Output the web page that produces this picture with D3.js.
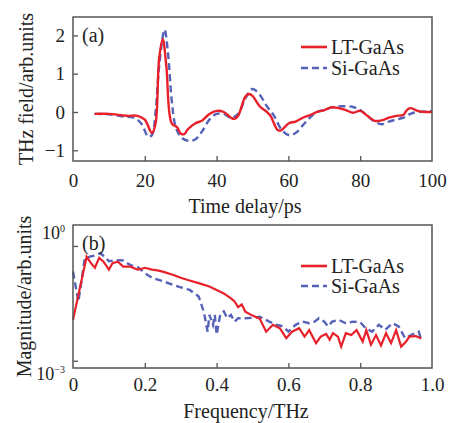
<!DOCTYPE html>
<html><head><meta charset="utf-8">
<script src="https://cdn.jsdelivr.net/npm/d3@7"></script>
<style>body{margin:0;background:#fff}svg{display:block}text{font-family:"Liberation Serif","Times New Roman",serif;fill:#222}</style>
</head><body><svg id="c" width="452" height="423"></svg>
<script>
// ---- Panel (a): THz time-domain field ----
const timeTicks = [0, 20, 40, 60, 80, 100];
const fieldTicks = [-1, 0, 1, 2];
const ltTime = [6,10,15,18,20,22,23,24,25,26,27.5,29,30,31,32,34,36,38,40,42,44,45,46,48,49,50,52,54,55,57,58,60,62,64,66,68,70,72,74,76,78,80,82,84,86,88,90,92,93,94,96,98,100];
const ltField = [-0.05,-0.05,-0.1,-0.1,-0.2,-0.55,-0.3,1.4,1.9,1.2,-0.3,-0.4,-0.56,-0.58,-0.45,-0.3,-0.22,-0.05,0.03,0,-0.15,-0.18,-0.1,0.4,0.47,0.42,0.15,0,-0.1,-0.47,-0.48,-0.3,-0.25,-0.15,-0.08,0,0.05,0.12,0.1,0.05,-0.02,0.03,-0.1,-0.23,-0.22,-0.15,-0.1,-0.08,0.05,0.1,0.03,0,0];
const siTime = [6,10,14,17,19,21,22,23,24,25.5,26.5,27.5,28.5,30,32,34,36,38,40,42,44,46,48,50,52,54,56,58,60,62,64,66,68,70,72,75,78,80,82,84,86,88,90,92,94,96,100];
const siField = [-0.05,-0.06,-0.12,-0.15,-0.3,-0.65,-0.6,0,1.2,2.15,1.5,0.3,-0.35,-0.65,-0.75,-0.72,-0.5,-0.2,-0.05,-0.05,-0.15,-0.05,0.35,0.6,0.45,0.15,-0.1,-0.45,-0.6,-0.55,-0.35,-0.15,0,0.05,0.12,0.15,0.13,0.05,-0.1,-0.25,-0.32,-0.25,-0.2,-0.15,-0.05,0,0.02];

// ---- Panel (b): spectral magnitude ----
const freqTicks = [0, 0.2, 0.4, 0.6, 0.8, 1.0];
const freqTickLabels = ["0", "0.2", "0.4", "0.6", "0.8", "1.0"];
const magTicks = [1, 0.001];
const ltFreq = [0,0.038,0.05,0.061,0.073,0.085,0.1,0.11,0.125,0.14,0.16,0.18,0.19,0.2,0.22,0.235,0.25,0.28,0.3,0.32,0.35,0.38,0.4,0.42,0.44,0.45,0.46,0.47,0.48,0.5,0.52,0.538,0.557,0.576,0.594,0.61,0.63,0.645,0.658,0.677,0.69,0.705,0.715,0.724,0.738,0.747,0.76,0.775,0.79,0.807,0.817,0.83,0.844,0.858,0.872,0.886,0.9,0.914,0.928,0.937,0.955,0.97];
const ltMag = [0.0117,0.525,0.355,0.269,0.49,0.389,0.24,0.355,0.389,0.288,0.288,0.24,0.251,0.269,0.24,0.229,0.214,0.174,0.148,0.129,0.107,0.087,0.0708,0.0575,0.0427,0.0355,0.0251,0.0295,0.0191,0.0151,0.0126,0.00575,0.0087,0.00708,0.00389,0.00575,0.00708,0.00427,0.00631,0.00288,0.00427,0.00501,0.00355,0.00525,0.00427,0.00234,0.00525,0.00468,0.00631,0.00316,0.00631,0.00263,0.00468,0.00251,0.00525,0.00288,0.00631,0.00234,0.00316,0.00427,0.0044,0.0038];
const siFreq = [0,0.015,0.033,0.047,0.06,0.076,0.09,0.1,0.12,0.14,0.16,0.18,0.2,0.22,0.25,0.28,0.3,0.325,0.35,0.355,0.365,0.375,0.38,0.39,0.395,0.4,0.41,0.42,0.43,0.44,0.45,0.46,0.48,0.5,0.52,0.547,0.566,0.585,0.6,0.62,0.64,0.658,0.67,0.685,0.7,0.71,0.722,0.74,0.76,0.78,0.8,0.815,0.833,0.852,0.87,0.89,0.907,0.925,0.944,0.963,0.97];
const siMag = [0.214,0.0355,0.479,0.525,0.562,0.646,0.501,0.398,0.427,0.417,0.316,0.282,0.195,0.148,0.12,0.0955,0.0832,0.0708,0.0479,0.0355,0.0178,0.00575,0.0158,0.0087,0.0158,0.00479,0.0158,0.0195,0.0129,0.0158,0.0105,0.0129,0.0129,0.0132,0.0141,0.0105,0.0087,0.00794,0.00575,0.0087,0.0105,0.00955,0.01,0.0129,0.0105,0.00794,0.0105,0.0117,0.00955,0.0105,0.0102,0.00708,0.00575,0.0087,0.00646,0.00955,0.00794,0.00389,0.00479,0.00575,0.00355];

const seriesNames = ["LT-GaAs", "Si-GaAs"];
const seriesColors = ["#e8202a", "#5662b8"];

const svg = d3.select("#c");
const L = 73, R = 432;
const FS = 20;

function frame(g, top, bottom) {
  g.append("rect").attr("x", L).attr("y", top).attr("width", R - L).attr("height", bottom - top)
    .attr("fill", "none").attr("stroke", "#555").attr("stroke-width", 1.5);
}
function legend(g, y0, dy) {
  seriesNames.forEach((n, i) => {
    const y = y0 + i * dy;
    g.append("line").attr("x1", 301).attr("x2", 327).attr("y1", y).attr("y2", y)
      .attr("stroke", seriesColors[i]).attr("stroke-width", 2.6)
      .attr("stroke-dasharray", i === 1 ? "7,4" : null);
    g.append("text").attr("x", 331).attr("y", y).attr("dy", "0.35em")
      .attr("font-size", FS).text(n);
  });
}
function styleAxis(a) {
  a.select(".domain").remove();
  a.selectAll(".tick line").attr("stroke", "#555").attr("stroke-width", 1.3);
  a.selectAll(".tick text").attr("font-size", 19).attr("font-family", "Liberation Serif").attr("fill", "#222");
}

// ---------- Panel (a) ----------
{
  const top = 17, bottom = 161;
  const x = d3.scaleLinear().domain([0, 100]).range([L, R]);
  const y = d3.scaleLinear().domain([-1.28, 2.48]).range([bottom, top]);
  const g = svg.append("g");
  const ax = g.append("g").attr("transform", `translate(0,${bottom})`)
    .call(d3.axisBottom(x).tickValues(timeTicks).tickSize(-5).tickPadding(13));
  styleAxis(ax);
  ax.selectAll(".tick line").filter(d => d === 0 || d === 100).remove();
  const ay = g.append("g").attr("transform", `translate(${L},0)`)
    .call(d3.axisLeft(y).tickValues(fieldTicks).tickSize(-5).tickPadding(8).tickFormat(d => d < 0 ? "\u22121" : d));
  styleAxis(ay);
  const line = d3.line().x(d => x(d[0])).y(d => y(d[1])).curve(d3.curveCatmullRom.alpha(0.5));
  g.append("path").datum(siTime.map((t, i) => [t, siField[i]])).attr("d", line)
    .attr("fill", "none").attr("stroke", seriesColors[1]).attr("stroke-width", 2.4).attr("stroke-dasharray", "7,4");
  g.append("path").datum(ltTime.map((t, i) => [t, ltField[i]])).attr("d", line)
    .attr("fill", "none").attr("stroke", seriesColors[0]).attr("stroke-width", 2.4);
  frame(g, top, bottom);
  g.append("text").attr("x", 82).attr("y", 35).attr("dy", "0.35em").attr("font-size", FS).text("(a)");
  legend(g, 47, 21);
  g.append("text").attr("x", 245).attr("y", 213).attr("text-anchor", "middle").attr("font-size", FS).text("Time delay/ps");
  g.append("text").attr("transform", `translate(33,${(top + bottom) / 2}) rotate(-90)`)
    .attr("text-anchor", "middle").attr("font-size", FS).text("THz field/arb.units");
}

// ---------- Panel (b) ----------
{
  const top = 225, bottom = 368;
  const x = d3.scaleLinear().domain([0, 1]).range([L, R]);
  const y = d3.scaleLog().domain([Math.pow(10, -3.19), Math.pow(10, 0.548)]).range([bottom, top]);
  const g = svg.append("g");
  const ax = g.append("g").attr("transform", `translate(0,${bottom})`)
    .call(d3.axisBottom(x).tickValues(freqTicks).tickSize(-5).tickPadding(10).tickFormat((d, i) => freqTickLabels[i]));
  styleAxis(ax);
  ax.selectAll(".tick line").filter(d => d === 0 || d === 1).remove();
  const ay = g.append("g").attr("transform", `translate(${L},0)`)
    .call(d3.axisLeft(y).tickValues(magTicks).tickSize(-5).tickPadding(8).tickFormat(() => ""));
  styleAxis(ay);
  ay.selectAll(".tick text").each(function (d) {
    const t = d3.select(this);
    t.attr("font-size", 18).attr("dy", d === 1 ? "-0.4em" : "1.05em");
    t.append("tspan").text("10");
    t.append("tspan").attr("font-size", 10).attr("dy", "-0.7em").text(d === 1 ? "0" : "\u22123");
  });
  const line = d3.line().x(d => x(d[0])).y(d => y(d[1]));
  g.append("path").datum(siFreq.map((f, i) => [f, siMag[i]])).attr("d", line)
    .attr("fill", "none").attr("stroke", seriesColors[1]).attr("stroke-width", 2.4).attr("stroke-dasharray", "7,4");
  g.append("path").datum(ltFreq.map((f, i) => [f, ltMag[i]])).attr("d", line)
    .attr("fill", "none").attr("stroke", seriesColors[0]).attr("stroke-width", 2.2);
  frame(g, top, bottom);
  g.append("text").attr("x", 82).attr("y", 243).attr("dy", "0.35em").attr("font-size", FS).text("(b)");
  legend(g, 266, 20);
  g.append("text").attr("x", 246).attr("y", 418).attr("text-anchor", "middle").attr("font-size", FS).text("Frequency/THz");
  g.append("text").attr("transform", `translate(31,${(top + bottom) / 2}) rotate(-90)`)
    .attr("text-anchor", "middle").attr("font-size", FS).text("Magnitude/arb.units");
}
</script></body></html>
